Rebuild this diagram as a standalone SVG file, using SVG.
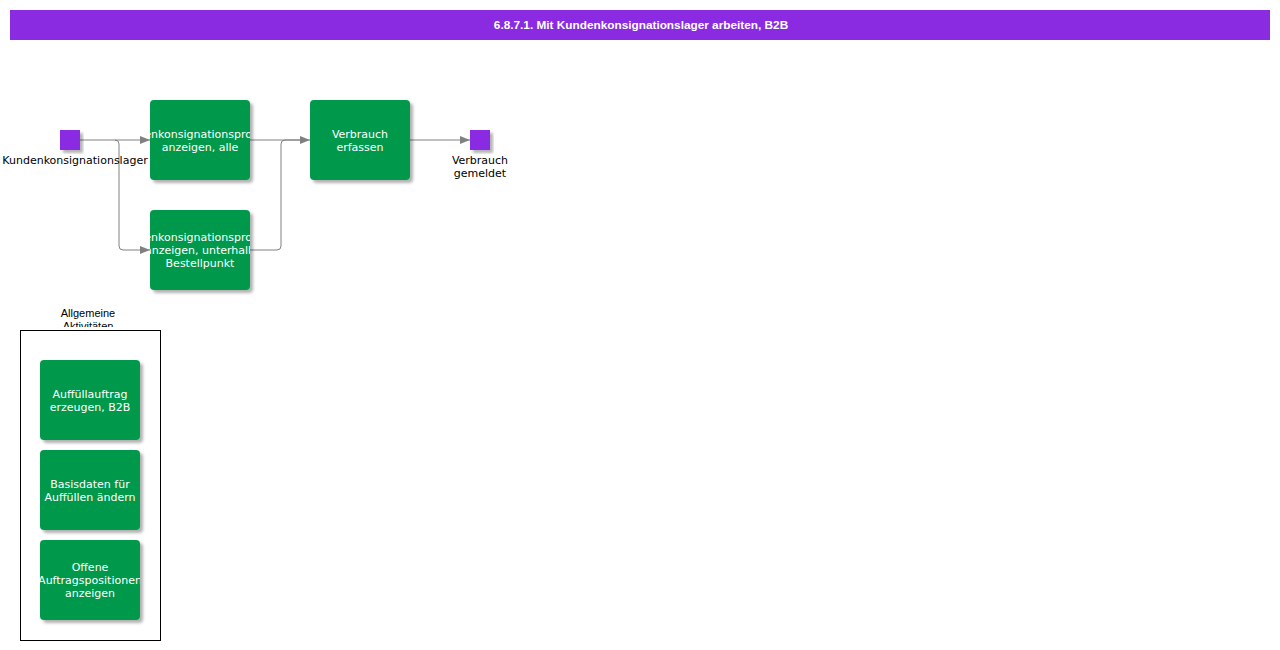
<svg xmlns="http://www.w3.org/2000/svg" width="1280" height="650" viewBox="0 0 1280 650">
<style>
.task{fill:#00994c;filter:url(#sh)}
.ev{fill:#8a2be2;filter:url(#sh)}
.tt{font-family:"DejaVu Sans",sans-serif;font-size:11px;fill:#ffffff;text-anchor:middle}
.lb{font-family:"DejaVu Sans",sans-serif;font-size:11px;fill:#000000;text-anchor:middle}
.con{fill:none;stroke:#808080;stroke-width:1}
</style>
<defs>
<filter id="sh" x="-20%" y="-20%" width="140%" height="140%">
<feDropShadow dx="3" dy="3" stdDeviation="1.5" flood-color="#000000" flood-opacity="0.3"/>
</filter>
<marker id="ar" markerWidth="10" markerHeight="8" refX="10" refY="4" orient="auto" markerUnits="userSpaceOnUse">
<path d="M0,0 L10,4 L0,8 Z" fill="#808080"/>
</marker>
<clipPath id="c1"><rect x="150" y="100" width="100" height="80"/></clipPath>
<clipPath id="c2"><rect x="150" y="210" width="100" height="80"/></clipPath>
<clipPath id="c6"><rect x="40" y="540" width="100" height="80"/></clipPath>
<clipPath id="cg"><rect x="0" y="290" width="200" height="37"/></clipPath>
</defs>
<rect x="0" y="0" width="1280" height="650" fill="#ffffff"/>
<g id="title">
<rect x="10" y="10" width="1260" height="30" fill="#8a2be2"/>
<text x="641" y="29" font-family="Liberation Sans, Arial, sans-serif" font-size="11.8" font-weight="bold" fill="#ffffff" text-anchor="middle">6.8.7.1. Mit Kundenkonsignationslager arbeiten, B2B</text>
</g>
<g id="connectors">
<path class="con" d="M80,140 L150,140" marker-end="url(#ar)"/>
<path class="con" d="M115,140 Q119,140 119,144 L119,246 Q119,250 123,250 L150,250" marker-end="url(#ar)"/>
<path class="con" d="M250,140 L310,140" marker-end="url(#ar)"/>
<path class="con" d="M250,250 L277,250 Q281,250 281,246 L281,144 Q281,140 285,140 L300,140"/>
<path class="con" d="M410,140 L470,140" marker-end="url(#ar)"/>
</g>
<g id="start">
<rect class="ev" x="60" y="130" width="20" height="20"/>
<text class="lb" x="75" y="164">Kundenkonsignationslager</text>
</g>
<g id="task1">
<rect class="task" x="150" y="100" width="100" height="80" rx="4"/>
<g clip-path="url(#c1)">
<text class="tt" x="200" y="138">Kundenkonsignationsprodukte</text>
<text class="tt" x="200" y="151">anzeigen, alle</text>
</g>
</g>
<g id="task2">
<rect class="task" x="150" y="210" width="100" height="80" rx="4"/>
<g clip-path="url(#c2)">
<text class="tt" x="200" y="241">Kundenkonsignationsprodukte</text>
<text class="tt" x="200" y="254">anzeigen, unterhalb</text>
<text class="tt" x="200" y="267">Bestellpunkt</text>
</g>
</g>
<g id="task3">
<rect class="task" x="310" y="100" width="100" height="80" rx="4"/>
<text class="tt" x="360" y="138">Verbrauch</text>
<text class="tt" x="360" y="151">erfassen</text>
</g>
<g id="end">
<rect class="ev" x="470" y="130" width="20" height="20"/>
<text class="lb" x="480" y="164">Verbrauch</text>
<text class="lb" x="480" y="177">gemeldet</text>
</g>
<g id="group">
<g clip-path="url(#cg)">
<text x="88" y="317" font-family="Liberation Sans, Arial, sans-serif" font-size="11" fill="#000000" text-anchor="middle">Allgemeine</text>
<text x="88" y="330" font-family="Liberation Sans, Arial, sans-serif" font-size="11" fill="#000000" text-anchor="middle">Aktivitäten</text>
</g>
<rect x="20.5" y="330.5" width="140" height="310" fill="none" stroke="#000000" stroke-width="1"/>
</g>
<g id="task4">
<rect class="task" x="40" y="360" width="100" height="80" rx="4"/>
<text class="tt" x="90" y="398">Auffüllauftrag</text>
<text class="tt" x="90" y="411">erzeugen, B2B</text>
</g>
<g id="task5">
<rect class="task" x="40" y="450" width="100" height="80" rx="4"/>
<text class="tt" x="90" y="488">Basisdaten für</text>
<text class="tt" x="90" y="501">Auffüllen ändern</text>
</g>
<g id="task6">
<rect class="task" x="40" y="540" width="100" height="80" rx="4"/>
<g clip-path="url(#c6)">
<text class="tt" x="90" y="571">Offene</text>
<text class="tt" x="90" y="584">Auftragspositionen</text>
<text class="tt" x="90" y="597">anzeigen</text>
</g>
</g>
</svg>
